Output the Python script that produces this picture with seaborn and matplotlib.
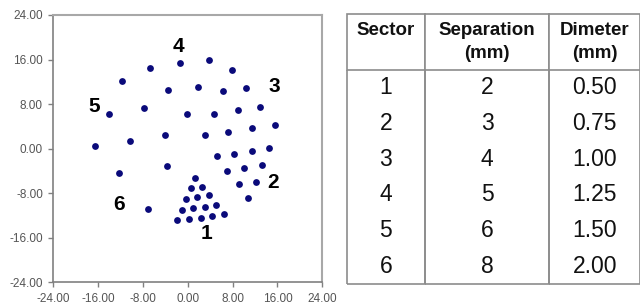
import matplotlib
matplotlib.use('Agg')
import matplotlib.pyplot as plt
import seaborn as sns
import numpy as np

sns.set_style('white')
plt.rcParams['font.family'] = ['Liberation Sans', 'DejaVu Sans']

# dot centres (mm)
dot_x = [-16.5, -12.2, -7.1, -14.1, -11.7, -10.4, -7.9, -6.7, -4.1, -3.5, -1.4, -3.7,
         -0.2, 3.7, 7.8, 1.8, 6.3, 10.3, 4.7, 8.9, 12.9, 3.1, 7.2, 11.4, 15.5,
         5.2, 8.3, 11.4, 14.5, 7.0, 10.1, 13.3, 9.1, 12.1, 10.8,
         1.3, 0.5, 2.6, -0.4, 1.7, 3.8, -1.1, 1.0, 3.0, 5.1, -1.9, 0.3, 2.3, 4.4, 6.4]
dot_y = [0.5, -4.4, -10.9, 6.3, 12.2, 1.4, 7.3, 14.5, 2.4, 10.5, 15.3, -3.1,
         6.3, 16.0, 14.1, 11.1, 10.3, 10.8, 6.3, 7.0, 7.5, 2.4, 3.0, 3.7, 4.2,
         -1.4, -1.0, -0.4, 0.1, -4.0, -3.4, -2.9, -6.4, -5.9, -8.9,
         -5.2, -7.1, -6.8, -9.1, -8.7, -8.4, -11.0, -10.7, -10.4, -10.1, -12.9, -12.6, -12.4, -12.1, -11.7]

# sector numbers written next to the groups
label_text = ['1', '2', '3', '4', '5', '6']
label_x = [3.3, 15.3, 15.4, -1.6, -16.7, -12.2]
label_y = [-15.2, -6.1, 11.2, 18.3, 7.6, -10.1]

# table contents
sectors = ['1', '2', '3', '4', '5', '6']
separation = ['2', '3', '4', '5', '6', '8']
diameter = ['0.50', '0.75', '1.00', '1.25', '1.50', '2.00']
headers = ['Sector\n ', 'Separation\n(mm)', 'Dimeter\n(mm)']

ticks = np.arange(-24, 25, 8)

fig = plt.figure(figsize=(6.4, 3.05), dpi=100)
ax = fig.add_axes([0.0833, 0.0744, 0.4203, 0.8765])

sns.scatterplot(x=dot_x, y=dot_y, color='#0a0a7a', s=24, linewidth=0, ax=ax)
for t, lx, ly in zip(label_text, label_x, label_y):
    ax.text(lx, ly, t, fontsize=15, fontweight='bold', ha='center', va='center', color='black')

ax.set_xlim(-24, 24)
ax.set_ylim(-24, 24)
ax.set_xticks(ticks)
ax.set_yticks(ticks)
ax.set_xticklabels([f'{v:.2f}' for v in ticks])
ax.set_yticklabels([f'{v:.2f}' for v in ticks])
ax.tick_params(axis='both', labelsize=8.5, labelcolor='#555555', length=3.5, width=1,
               color='#808080', direction='out', pad=4, left=True, bottom=True)
for side in ['left', 'bottom']:
    ax.spines[side].set_color('#808080')
    ax.spines[side].set_linewidth(1.2)
for side in ['top', 'right']:
    ax.spines[side].set_color('#a8a8a8')
    ax.spines[side].set_linewidth(1.5)

# table on the right
tax = fig.add_axes([0.5417, 0.0689, 0.4583, 0.8853])
tax.axis('off')
cells = [list(r) for r in zip(sectors, separation, diameter)]
tbl = tax.table(cellText=[headers] + cells, cellLoc='center', bbox=[0, 0, 1, 1],
                colWidths=[0.267, 0.424, 0.309])
tbl.auto_set_font_size(False)
nrows = len(cells) + 1
for (r, c), cell in tbl.get_celld().items():
    cell.set_edgecolor('#8c8c8c')
    cell.set_linewidth(1.2)
    txt = cell.get_text()
    if r == 0:
        cell.set_height(0.207)
        cell.visible_edges = 'closed'
        txt.set_fontweight('bold')
        txt.set_fontsize(13.5)
        txt.set_linespacing(1.45)
    else:
        cell.set_height(0.132)
        cell.visible_edges = 'BLR' if r == nrows - 1 else 'LR'
        txt.set_fontsize(16.5)
    txt.set_color('#111111')

fig.savefig('out.png', dpi=100, facecolor='white')
